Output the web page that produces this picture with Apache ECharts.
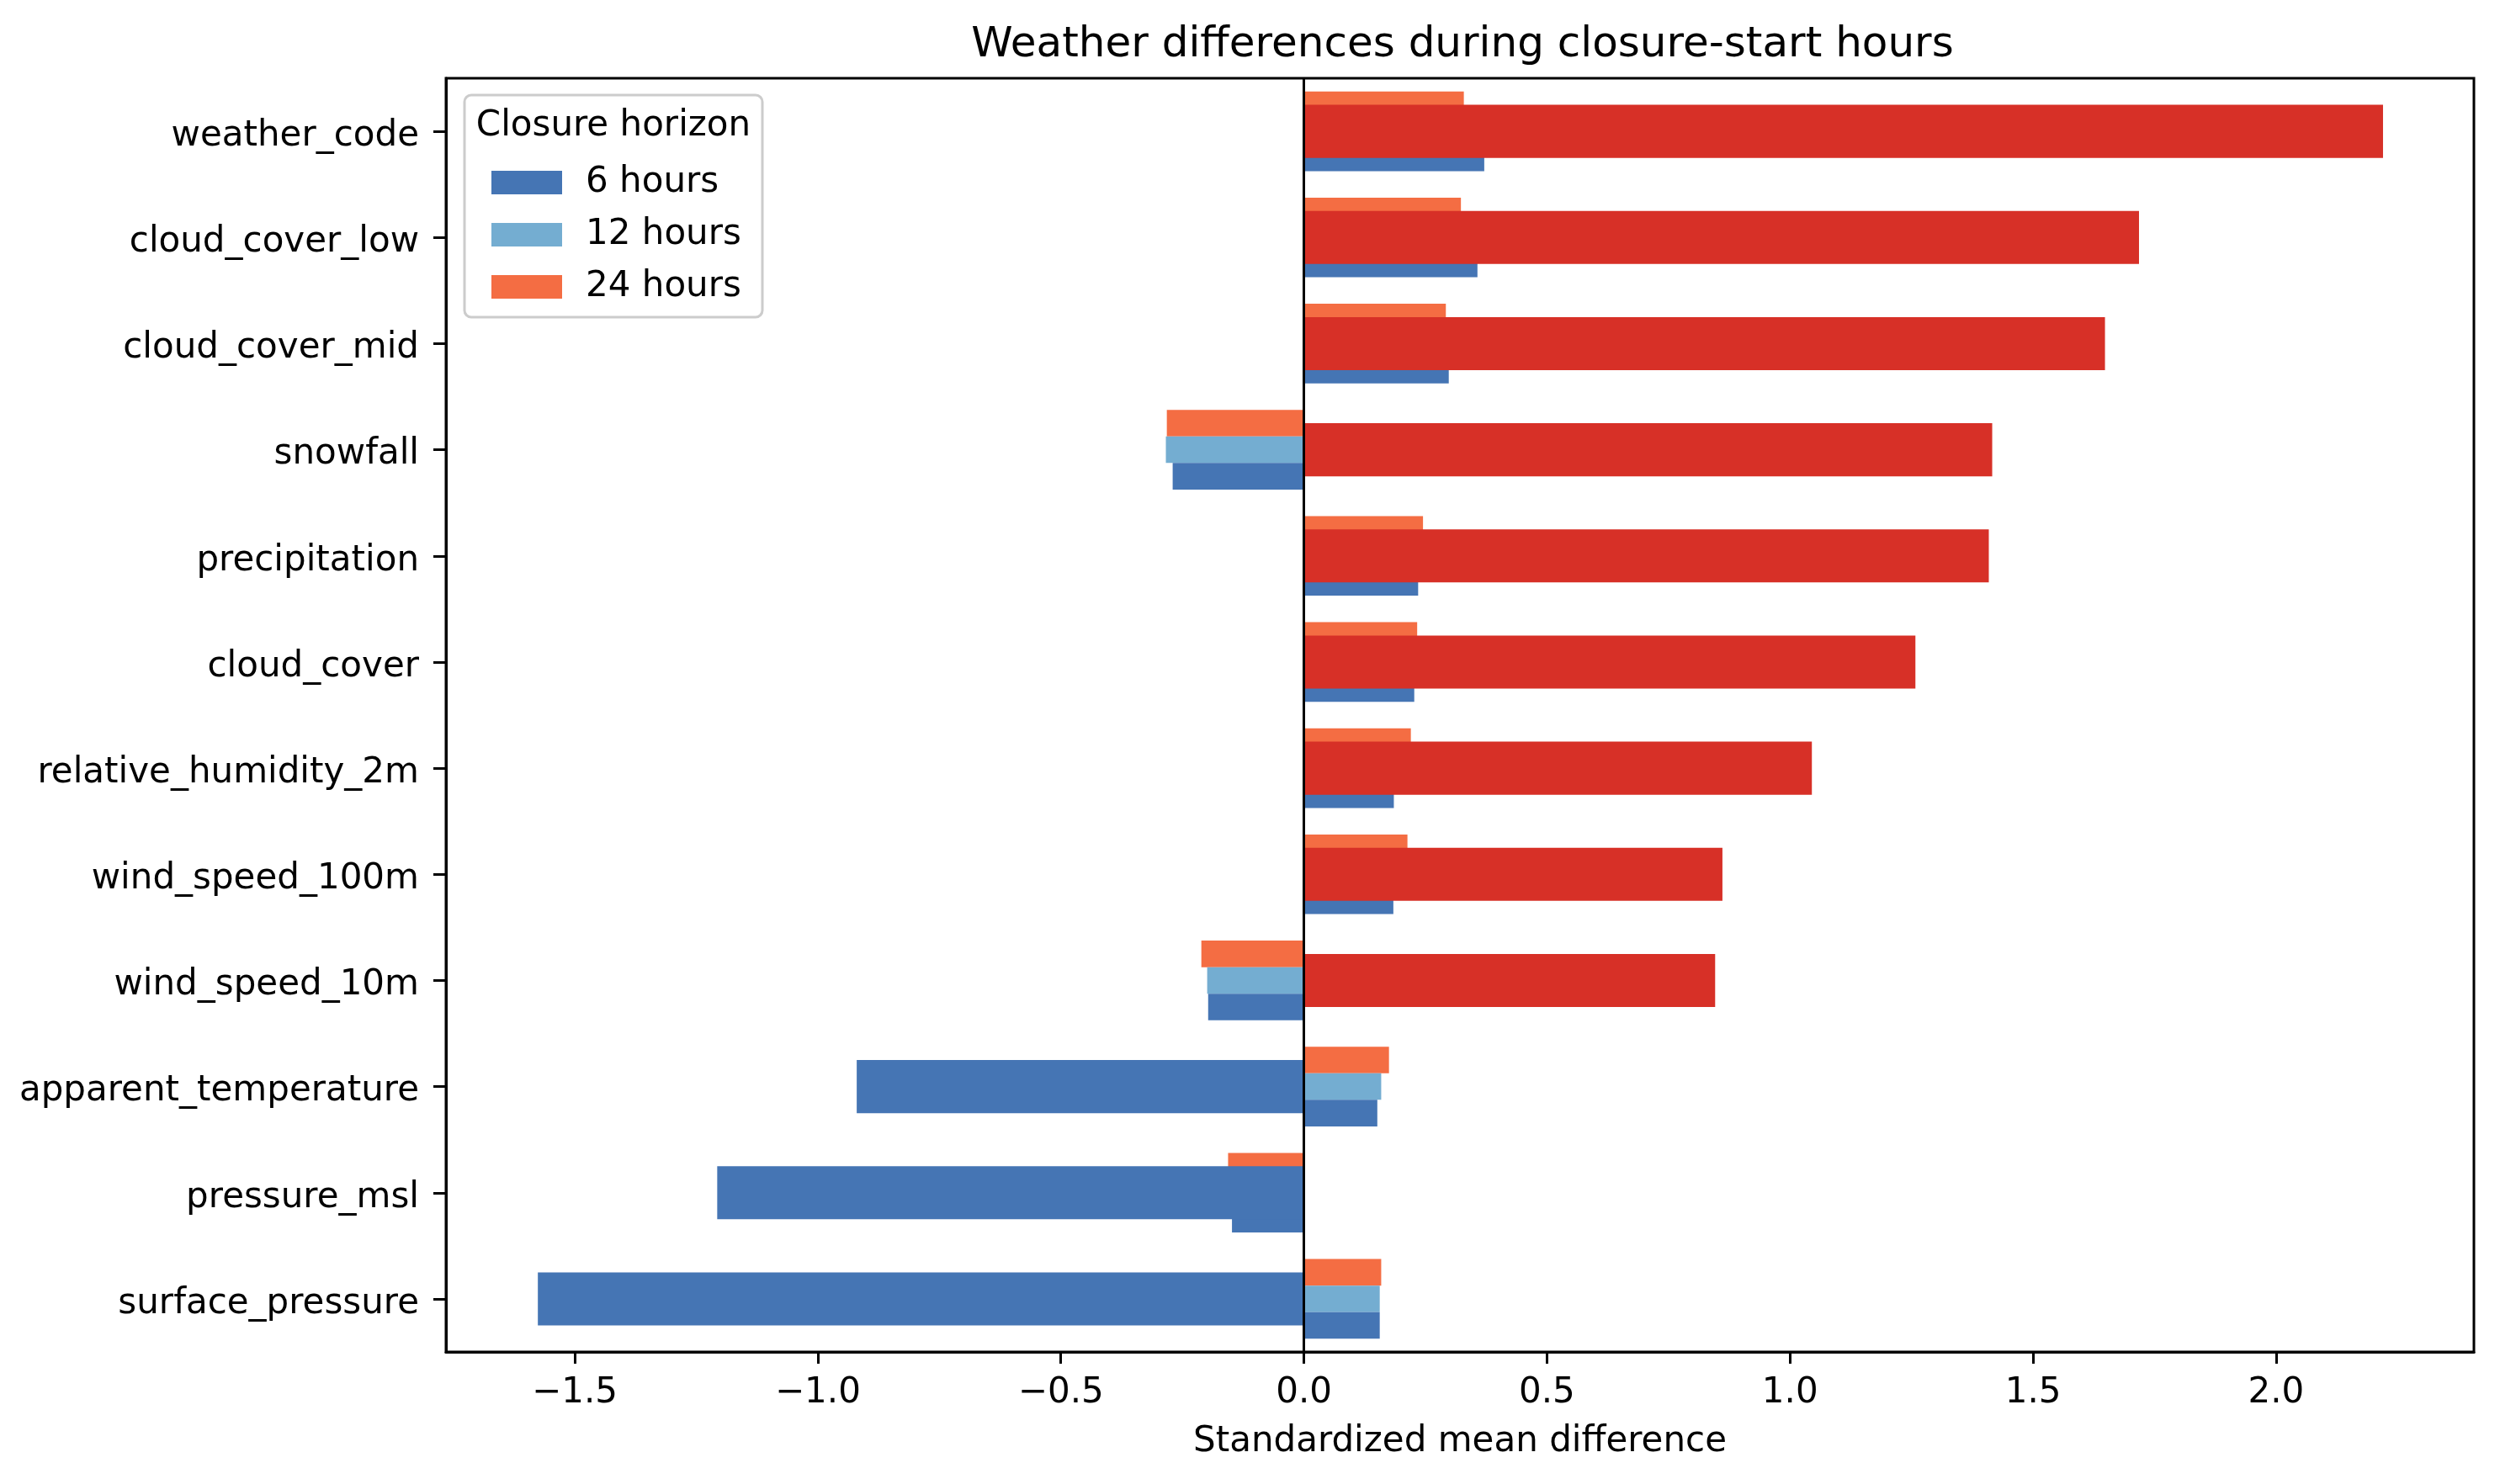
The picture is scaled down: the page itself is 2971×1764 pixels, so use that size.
<!DOCTYPE html>
<html>
<head>
<meta charset="utf-8">
<script src="https://cdn.jsdelivr.net/npm/echarts@6/dist/echarts.min.js"></script>
<style>
  body { margin: 0; background: #fff; }
</style>
</head>

<body>
<div id="main" style="width: 2971px;height:1764px;"></div>

<script type="text/javascript">
// variables, top to bottom
var categories = ['weather_code', 'cloud_cover_low', 'cloud_cover_mid', 'snowfall', 'precipitation',
	'cloud_cover', 'relative_humidity_2m', 'wind_speed_100m', 'wind_speed_10m',
	'apparent_temperature', 'pressure_msl', 'surface_pressure'];

// standardized mean difference per closure horizon
var hours6 = [0.371, 0.357, 0.298, -0.270, 0.235, 0.227, 0.185, 0.184, -0.197, 0.151, -0.148, 0.156];
var hours12 = [0.350, 0.340, 0.295, -0.284, 0.240, 0.230, 0.200, 0.200, -0.199, 0.159, -0.150, 0.156];
var hours24 = [0.329, 0.323, 0.292, -0.282, 0.245, 0.233, 0.220, 0.213, -0.211, 0.175, -0.156, 0.159];
// wide bar behind the groups
var closureStart = [2.220, 1.718, 1.648, 1.416, 1.409, 1.258, 1.045, 0.861, 0.846, -0.920, -1.207, -1.576];

var xTicks = [-1.5, -1.0, -0.5, 0, 0.5, 1.0, 1.5, 2.0];

var FONT = 'DejaVu Sans';
var C6 = '#4575b4', C12 = '#74add1', C24 = '#f46d43', POS = '#d73027', NEG = '#4575b4';

var myChart = echarts.init(document.getElementById('main'));

var fmt = function (v) {
	return (v < 0 ? '\u2212' : '') + Math.abs(v).toFixed(1);
};

option = {
	animation: false,
	backgroundColor: '#fff',
	textStyle: { fontFamily: FONT },
	title: {
		text: 'Weather differences during closure-start hours',
		left: 1733,
		top: 24,
		textAlign: 'center',
		textStyle: { fontFamily: FONT, fontSize: 50, fontWeight: 'normal', color: '#000' }
	},
	grid: {
		left: 530, right: 31, top: 93, bottom: 157,
		show: true, borderColor: '#000', borderWidth: 3, backgroundColor: 'transparent'
	},
	legend: {
		data: ['6 hours', '12 hours', '24 hours'],
		orient: 'vertical',
		left: 579,
		top: 191,
		z: 100,
		itemWidth: 84,
		itemHeight: 28,
		itemGap: 20,
		icon: 'rect',
		textStyle: { fontFamily: FONT, fontSize: 42, color: '#000', lineHeight: 42, padding: [0, 0, 0, 23] }
	},
	graphic: [
		{
			type: 'rect', z: 1,
			shape: { x: 552, y: 113, width: 354, height: 264, r: 8 },
			style: { fill: 'rgba(255,255,255,0.8)', stroke: '#cccccc', lineWidth: 3 }
		},
		{
			type: 'text', z: 101,
			x: 729, y: 150,
			style: { text: 'Closure horizon', font: '42px "DejaVu Sans"', fill: '#000', align: 'center', verticalAlign: 'middle' }
		}
	],
	xAxis: {
		type: 'value',
		min: -1.765,
		max: 2.407,
		name: 'Standardized mean difference',
		nameLocation: 'middle',
		nameGap: 86,
		nameTextStyle: { fontFamily: FONT, fontSize: 42, color: '#000' },
		splitLine: { show: false },
		axisLine: { show: true, onZero: false, lineStyle: { color: '#000', width: 3 } },
		axisTick: { show: true, length: 14, lineStyle: { color: '#000', width: 3 }, customValues: xTicks },
		axisLabel: { fontFamily: FONT, fontSize: 42, color: '#000', margin: 28, customValues: xTicks, formatter: fmt }
	},
	yAxis: [
		{
			type: 'category',
			data: categories,
			inverse: true,
			position: 'left',
			axisLine: { show: true, onZero: false, lineStyle: { color: '#000', width: 3 } },
			axisTick: { show: true, inside: false, alignWithLabel: true, length: 14, lineStyle: { color: '#000', width: 3 } },
			axisLabel: {
				margin: 32,
				formatter: function (v) { return '{a|' + v + '}'; },
				rich: { a: { fontFamily: FONT, fontSize: 42, color: '#000', padding: [12, 0, 0, 0] } }
			}
		},
		{
			// carries the wide bars and draws the category ticks (pointing out of the plot)
			type: 'category',
			data: categories,
			inverse: true,
			position: 'left',
			axisLine: { show: false, onZero: false },
			axisTick: { show: true, inside: true, alignWithLabel: true, length: -15, lineStyle: { color: '#000', width: 3 } },
			axisLabel: { show: false },
			splitLine: { show: false }
		}
	],
	series: [
		{
			name: '24 hours', type: 'bar', yAxisIndex: 0,
			data: hours24, barWidth: '25%', barGap: '0%',
			itemStyle: { color: C24 }
		},
		{
			name: '12 hours', type: 'bar', yAxisIndex: 0,
			data: hours12, barWidth: '25%', barGap: '0%',
			itemStyle: { color: C12 }
		},
		{
			name: '6 hours', type: 'bar', yAxisIndex: 0,
			data: hours6, barWidth: '25%', barGap: '0%',
			itemStyle: { color: C6 }
		},
		{
			name: 'closure start', type: 'bar', yAxisIndex: 1,
			data: closureStart, barWidth: '50%', z: 3,
			itemStyle: {
				color: function (p) { return p.value >= 0 ? POS : NEG; }
			},
			markLine: {
				silent: true,
				symbol: 'none',
				z: 5,
				label: { show: false },
				lineStyle: { color: '#000', width: 3, type: 'solid' },
				data: [{ xAxis: 0 }]
			}
		}
	]
};

myChart.setOption(option);
</script>
</body>

</html>
